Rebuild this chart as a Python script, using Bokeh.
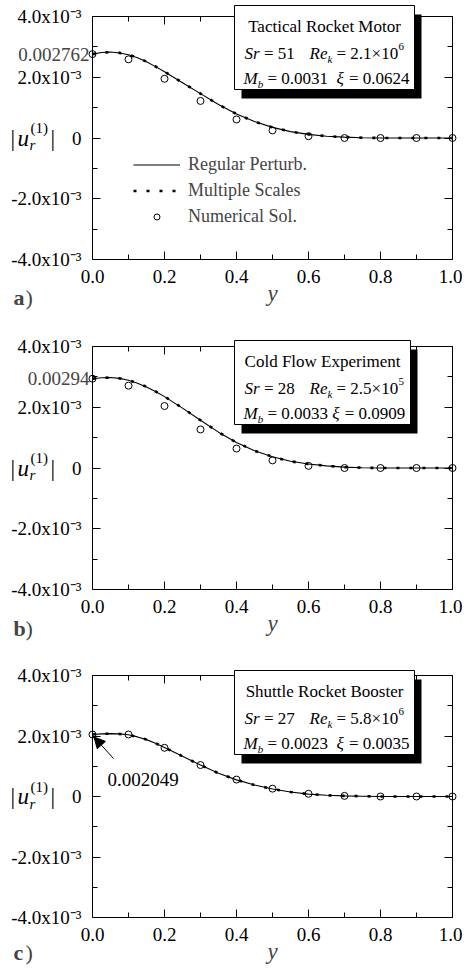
from bokeh.plotting import figure
from bokeh.layouts import column
from bokeh.models import (Range1d, FixedTicker, LinearAxis, Label, BoxAnnotation,
                          Arrow, NormalHead, Legend, LegendItem,
                          CustomJSTickFormatter, PrintfTickFormatter)
from bokeh.embed import file_html
from bokeh.resources import INLINE

FONT = "Liberation Serif"

# ---------------- data ----------------
x_curve = [0.0, 0.025, 0.05, 0.075, 0.1, 0.125, 0.15, 0.175, 0.2, 0.25, 0.3, 0.35,
           0.4, 0.45, 0.5, 0.55, 0.6, 0.65, 0.7, 0.75, 0.8, 0.9, 1.0]
x_num = [0.0, 0.1, 0.2, 0.3, 0.4, 0.5, 0.6, 0.7, 0.8, 0.9, 1.0]

# panel a) Tactical Rocket Motor
a_regular = [0.002762, 0.002815, 0.00283, 0.0028, 0.00274, 0.00264, 0.00251, 0.00235,
             0.00218, 0.00182, 0.00146, 0.0011, 0.00079, 0.00054, 0.00035, 0.00021,
             0.00012, 0.00006, 0.00003, 0.00001, 0.0, 0.0, 0.0]
a_multiple = [0.002762, 0.002812, 0.002828, 0.002802, 0.002745, 0.002645, 0.002515, 0.002355,
              0.002185, 0.001825, 0.001462, 0.001102, 0.00079, 0.00054, 0.00035, 0.00021,
              0.00012, 0.00006, 0.00003, 0.00001, 0.0, 0.0, 0.0]
a_numerical = [0.002762, 0.00259, 0.00195, 0.00122, 0.00061, 0.00025, 0.00006,
               0.0, 0.0, 0.0, 0.0]

# panel b) Cold Flow Experiment
b_regular = [0.00294, 0.00297, 0.00298, 0.00295, 0.00289, 0.00279, 0.00267, 0.00252,
             0.00235, 0.00197, 0.00157, 0.00118, 0.00084, 0.00057, 0.00037, 0.00022,
             0.00013, 0.00007, 0.00003, 0.00001, 0.0, 0.0, 0.0]
b_multiple = [0.00294, 0.002968, 0.002978, 0.002952, 0.002892, 0.002795, 0.002675, 0.002525,
              0.002355, 0.001975, 0.001572, 0.001182, 0.00084, 0.00057, 0.00037, 0.00022,
              0.00013, 0.00007, 0.00003, 0.00001, 0.0, 0.0, 0.0]
b_numerical = [0.00294, 0.00271, 0.00204, 0.00127, 0.00064, 0.00025, 0.00007,
               0.0, 0.0, 0.0, 0.0]

# panel c) Shuttle Rocket Booster
c_regular = [0.002049, 0.00207, 0.00208, 0.00207, 0.00204, 0.00197, 0.00188, 0.00176,
             0.00162, 0.00133, 0.00104, 0.00077, 0.00055, 0.00038, 0.00025, 0.00015,
             0.00008, 0.00004, 0.00002, 0.00001, 0.0, 0.0, 0.0]
c_multiple = [0.002049, 0.002068, 0.002078, 0.002068, 0.002038, 0.00197, 0.00188, 0.00176,
              0.00162, 0.00133, 0.00104, 0.00077, 0.00055, 0.00038, 0.00025, 0.00015,
              0.00008, 0.00004, 0.00002, 0.00001, 0.0, 0.0, 0.0]
c_numerical = [0.002049, 0.00205, 0.00161, 0.00104, 0.00056, 0.00026, 0.00009,
               0.00002, 0.0, 0.0, 0.0]

x_ticks = [0.0, 0.2, 0.4, 0.6, 0.8, 1.0]
x_minor = [0.1, 0.3, 0.5, 0.7, 0.9]
y_ticks = [-0.004, -0.002, 0.0, 0.002, 0.004]
y_minor = [-0.003, -0.001, 0.001, 0.003]
x_bounds = (0.0, 1.0)
y_bounds = (-0.004, 0.004)

titles = ["Tactical Rocket Motor", "Cold Flow Experiment", "Shuttle Rocket Booster"]
sr_vals = ["51", "28", "27"]
re_mant = ["2.1\u00d710", "2.5\u00d710", "5.8\u00d710"]
re_exp = ["6", "5", "6"]
mb_vals = ["0.0031", "0.0033", "0.0023"]
xi_vals = ["0.0624", "0.0909", "0.0035"]
letters = ["a", "b", "c"]
legend_labels = ["Regular Perturb.", "Multiple Scales", "Numerical Sol."]
peak_labels = ["0.002762", "0.00294", "0.002049"]

W = 462
BOX_L, BOX_R = 92, 452


def style_axis(ax, ticks, minor, bounds, loc, show):
    ax.ticker = FixedTicker(ticks=ticks, minor_ticks=minor)
    ax.bounds = bounds
    ax.fixed_location = loc
    ax.axis_line_color = "black"
    ax.axis_line_width = 1
    ax.major_tick_in = 8
    ax.major_tick_out = 0
    ax.minor_tick_in = 5
    ax.minor_tick_out = 0
    ax.major_tick_line_color = "black"
    ax.minor_tick_line_color = "black"
    ax.major_label_text_font = FONT
    ax.major_label_text_color = "black"
    ax.major_label_text_font_size = "19px"
    if not show:
        ax.formatter = CustomJSTickFormatter(code="return ''")
        ax.major_label_standoff = 0


def make_panel(i, xr, reg, mul, num, H, btop, bbot, letter_base):
    bh = bbot - btop
    ppu_y = bh / (y_bounds[1] - y_bounds[0])
    ppu_x = (BOX_R - BOX_L) / (x_bounds[1] - x_bounds[0])
    yr = Range1d(y_bounds[0] - (H - bbot) / ppu_y, y_bounds[1] + btop / ppu_y)
    xrng = Range1d(x_bounds[0] - BOX_L / ppu_x, x_bounds[1] + (W - BOX_R) / ppu_x)
    p = figure(width=W, height=H, x_range=xrng, y_range=yr, output_backend="svg",
               toolbar_location=None, min_border=0, min_border_left=0,
               min_border_right=0, min_border_top=0, min_border_bottom=0)
    p.grid.visible = False
    p.outline_line_color = None
    p.background_fill_color = "white"
    p.border_fill_color = "white"

    BX = BOX_L          # box left in screen px
    BY = H - bbot       # box bottom in screen px (from bottom)

    def lab(text, X, Y, size, style="normal", align="left", baseline="alphabetic"):
        p.add_layout(Label(x=BX + X, y=BY + Y, x_units="screen", y_units="screen",
                           text=text, text_font=FONT, text_font_size=f"{size}px",
                           text_font_style=style, text_align=align,
                           text_baseline=baseline, text_color="black"))

    def lab0(text, sx, size, style="normal", yoff=0):
        p.add_layout(Label(x=sx, y=0.0, x_units="screen", y_units="data", y_offset=yoff,
                           text=text, text_font=FONT, text_font_size=f"{size}px",
                           text_font_style=style, text_baseline="middle",
                           text_color="black"))

    xa = p.xaxis[0]
    style_axis(xa, x_ticks, x_minor, x_bounds, y_bounds[0], True)
    xa.formatter = PrintfTickFormatter(format="%.1f")
    xa.major_label_standoff = 10
    xa.axis_label = "y"
    xa.axis_label_text_font = FONT
    xa.axis_label_text_font_size = "23px"
    xa.axis_label_text_font_style = "italic"
    xa.axis_label_standoff = -5

    ya = p.yaxis[0]
    style_axis(ya, y_ticks, y_minor, y_bounds, x_bounds[0], True)
    ya.formatter = CustomJSTickFormatter(code="""
        const v = Math.round(tick * 10000) / 10;
        if (Math.abs(v) < 1e-9) { return "0"; }
        return v.toFixed(1) + "x10\u207b\u00b3";
    """)
    ya.major_label_standoff = 11

    top = LinearAxis()
    style_axis(top, x_ticks, x_minor, x_bounds, y_bounds[1], False)
    p.add_layout(top, "above")
    right = LinearAxis()
    style_axis(right, y_ticks, y_minor, y_bounds, x_bounds[1], False)
    p.add_layout(right, "right")

    r1 = p.line(xr, reg, line_color="black", line_width=1.1)
    r2 = p.line(xr, mul, line_color="black", line_width=2.6, line_dash="3 10")
    r3 = p.scatter(x_num, num, marker="circle", size=7, fill_color=None,
                   line_color="black", line_width=1)

    # y-axis label |u_r^(1)| at the zero level
    lab0("|", 10, 23)
    lab0("u", 17, 23, style="italic")
    lab0("r", 29, 15, style="italic", yoff=-7)
    lab0("(1)", 30, 15, yoff=10)
    lab0("|", 50, 23)

    # panel letter
    p.add_layout(Label(x=13, y=letter_base, x_units="screen", y_units="screen",
                       text=letters[i], text_font=FONT, text_font_size="22px",
                       text_font_style="bold", text_baseline="alphabetic"))
    p.add_layout(Label(x=25, y=letter_base, x_units="screen", y_units="screen",
                       text=")", text_font=FONT, text_font_size="22px",
                       text_baseline="alphabetic"))

    # parameter box with shadow
    left = 142
    right_b = 322 if i != 1 else 318
    tp = bh + [11, 6, 5][i]
    bt = tp - 84
    p.add_layout(BoxAnnotation(left=BX + left + 7, right=BX + right_b + 7,
                               top=BY + tp - 9, bottom=BY + bt - 9,
                               left_units="screen", right_units="screen",
                               top_units="screen", bottom_units="screen",
                               fill_color="black", fill_alpha=1, line_color=None))
    p.add_layout(BoxAnnotation(left=BX + left, right=BX + right_b, top=BY + tp, bottom=BY + bt,
                               left_units="screen", right_units="screen",
                               top_units="screen", bottom_units="screen",
                               fill_color="white", fill_alpha=1, line_color="black",
                               line_alpha=1, line_width=1))
    lab(titles[i], (left + right_b) / 2, tp - 21, 17, align="center")
    y2 = tp - 48
    lab("Sr", left + 10, y2, 17, style="italic")
    lab("= " + sr_vals[i], left + 29.4, y2, 17)
    lab("Re", left + 75, y2, 17, style="italic")
    lab("k", left + 93, y2 - 5, 11, style="italic")
    lab("= " + re_mant[i], left + 102, y2, 17)
    lab(re_exp[i], left + 164, y2 + 7, 11)
    y3 = tp - 73
    lab("M", left + 9, y3, 17, style="italic")
    lab("b", left + 23.2, y3 - 5, 11, style="italic")
    lab("= " + mb_vals[i], left + 33, y3, 17)
    gap = 4.25 if i == 1 else 8.5
    xx = left + 33 + 60.6 + gap
    lab("\u03be", xx, y3, 17, style="italic")
    lab("= " + xi_vals[i], xx + 12.3, y3, 17)

    # value annotation at y = 0
    if i < 2:
        p.add_layout(Label(x=BX - 3, y=num[0], x_units="screen", y_units="data",
                           text=peak_labels[i], text_font=FONT, text_font_size="19px",
                           text_align="right", text_baseline="middle"))
    else:
        p.add_layout(Arrow(end=NormalHead(size=11, fill_color="black", line_color="black"),
                           x_start=BX + 21, y_start=BY + bh / 2 + 38, start_units="screen",
                           x_end=x_num[0] + 0.004, y_end=num[0] - 0.00008, end_units="data",
                           line_color="black", line_width=1))
        lab(peak_labels[i], 15, bh / 2 + 17, 19)

    if i == 0:
        legend = Legend(items=[LegendItem(label=legend_labels[0], renderers=[r1]),
                               LegendItem(label=legend_labels[1], renderers=[r2]),
                               LegendItem(label=legend_labels[2], renderers=[r3])],
                        location=(133, BY + 30), orientation="vertical",
                        glyph_width=47, glyph_height=15, label_height=26, spacing=0,
                        padding=0, margin=0, label_standoff=8,
                        label_text_font=FONT, label_text_font_size="18px",
                        border_line_color=None, background_fill_alpha=0)
        p.add_layout(legend)
    return p


pa = make_panel(0, x_curve, a_regular, a_multiple, a_numerical, 330, 16, 259, 33)
pb = make_panel(1, x_curve, b_regular, b_multiple, b_numerical, 322, 16, 259, 24)
pc = make_panel(2, x_curve, c_regular, c_multiple, c_numerical, 316, 23, 265, 16)

layout = column(pa, pb, pc, spacing=0)
open("out.html", "w").write(file_html(layout, INLINE))
